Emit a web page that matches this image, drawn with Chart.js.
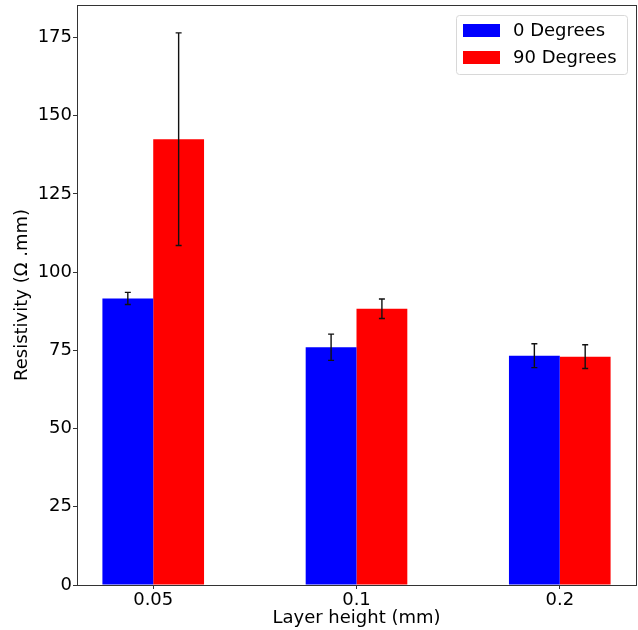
<!DOCTYPE html>
<html>
<head>
<meta charset="utf-8">
<script src="https://cdn.jsdelivr.net/npm/chart.js@4/dist/chart.umd.min.js"></script>
<style>
  html, body { margin: 0; padding: 0; background: #fff; }
  #wrap { width: 638px; height: 630px; }
</style>
</head>
<body>
<div id="wrap"><canvas id="c" width="638" height="630"></canvas></div>
<script>
const categories = ['0.05', '0.1', '0.2'];
const seriesLabels = ['0 Degrees', '90 Degrees'];
const deg0 = [91.6, 76.0, 73.3];
const deg90 = [142.5, 88.3, 73.0];
const err0 = [1.95, 4.2, 3.8];
const err90 = [34.0, 3.1, 3.8];
const yTicks = [0, 25, 50, 75, 100, 125, 150, 175];
const yMax = 185.4;

const FONT = 'DejaVu Sans';

const errors = [err0, err90];

const errorBarPlugin = {
  id: 'errorBars',
  afterDatasetsDraw(chart) {
    const ctx = chart.ctx;
    const yScale = chart.scales.y;
    ctx.save();
    ctx.strokeStyle = '#111';
    ctx.lineWidth = 1.4;
    chart.data.datasets.forEach((ds, di) => {
      const meta = chart.getDatasetMeta(di);
      meta.data.forEach((bar, i) => {
        const v = ds.data[i].y;
        const e = errors[di][i];
        const x = bar.x;
        const yTop = yScale.getPixelForValue(v + e);
        const yBot = yScale.getPixelForValue(v - e);
        ctx.beginPath();
        ctx.moveTo(x, yTop); ctx.lineTo(x, yBot);
        ctx.moveTo(x - 3, yTop); ctx.lineTo(x + 3, yTop);
        ctx.moveTo(x - 3, yBot); ctx.lineTo(x + 3, yBot);
        ctx.stroke();
      });
    });
    ctx.restore();
  }
};

const framePlugin = {
  id: 'frameAndLegend',
  afterDraw(chart) {
    const ctx = chart.ctx;
    const a = chart.chartArea;
    ctx.save();
    ctx.strokeStyle = '#333';
    ctx.lineWidth = 1;
    ctx.strokeRect(Math.round(a.left) + 0.5, Math.round(a.top) + 0.5,
                   Math.round(a.right - a.left), Math.round(a.bottom - a.top));
    const w = 171, h = 59;
    const lx = a.right - 9 - w, ly = a.top + 10;
    ctx.fillStyle = 'rgba(255,255,255,0.8)';
    ctx.strokeStyle = '#d8d8d8';
    ctx.lineWidth = 1;
    ctx.beginPath();
    if (ctx.roundRect) ctx.roundRect(lx + 0.5, ly + 0.5, w, h, 3); else ctx.rect(lx + 0.5, ly + 0.5, w, h);
    ctx.fill();
    ctx.stroke();
    ctx.font = '18px "' + FONT + '"';
    ctx.textBaseline = 'middle';
    ctx.textAlign = 'left';
    chart.data.datasets.forEach((ds, di) => {
      const ry = ly + 9 + di * 27;
      ctx.fillStyle = ds.backgroundColor;
      ctx.fillRect(lx + 7, ry, 37, 13);
      ctx.fillStyle = '#000';
      ctx.fillText(ds.label, lx + 57, ry + 7);
    });
    ctx.restore();
  }
};

new Chart(document.getElementById('c'), {
  type: 'bar',
  data: {
    datasets: [
      { label: seriesLabels[0], data: deg0.map((v, i) => ({ x: i, y: v })), backgroundColor: '#0000ff' },
      { label: seriesLabels[1], data: deg90.map((v, i) => ({ x: i, y: v })), backgroundColor: '#ff0000' }
    ]
  },
  options: {
    responsive: false,
    animation: false,
    devicePixelRatio: 1,
    layout: { padding: { top: 5, right: 2, left: 0, bottom: 0 } },
    categoryPercentage: 0.5,
    barPercentage: 1.0,
    plugins: { legend: { display: false }, tooltip: { enabled: false } },
    scales: {
      x: {
        type: 'linear',
        min: -0.375,
        max: 2.375,
        offset: false,
        afterBuildTicks(scale) { scale.ticks = categories.map((c, i) => ({ value: i })); },
        afterFit(scale) { scale.height = 45; scale.paddingLeft = 0; scale.paddingRight = 0; },
        ticks: {
          callback: (v) => categories[v],
          font: { family: FONT, size: 18 },
          color: '#000',
          padding: 1,
          maxRotation: 0,
          autoSkip: false
        },
        grid: { offset: false, drawOnChartArea: false, drawTicks: true, tickLength: 4, color: '#333' },
        border: { display: false },
        title: {
          display: true,
          text: 'Layer height (mm)',
          font: { family: FONT, size: 18 },
          color: '#000',
          padding: { top: 0, bottom: 1 }
        }
      },
      y: {
        min: 0,
        max: yMax,
        afterBuildTicks(scale) { scale.ticks = yTicks.map(v => ({ value: v })); },
        afterFit(scale) { scale.width = 77; scale.paddingTop = 0; scale.paddingBottom = 0; },
        ticks: {
          font: { family: FONT, size: 18 },
          color: '#000',
          padding: 1
        },
        grid: { drawOnChartArea: false, drawTicks: true, tickLength: 4, color: '#333' },
        border: { display: false },
        title: {
          display: true,
          text: 'Resistivity (Ω .mm)',
          font: { family: FONT, size: 18 },
          color: '#000',
          padding: { top: 12, bottom: 0 }
        }
      }
    }
  },
  plugins: [errorBarPlugin, framePlugin]
});
</script>
</body>
</html>
